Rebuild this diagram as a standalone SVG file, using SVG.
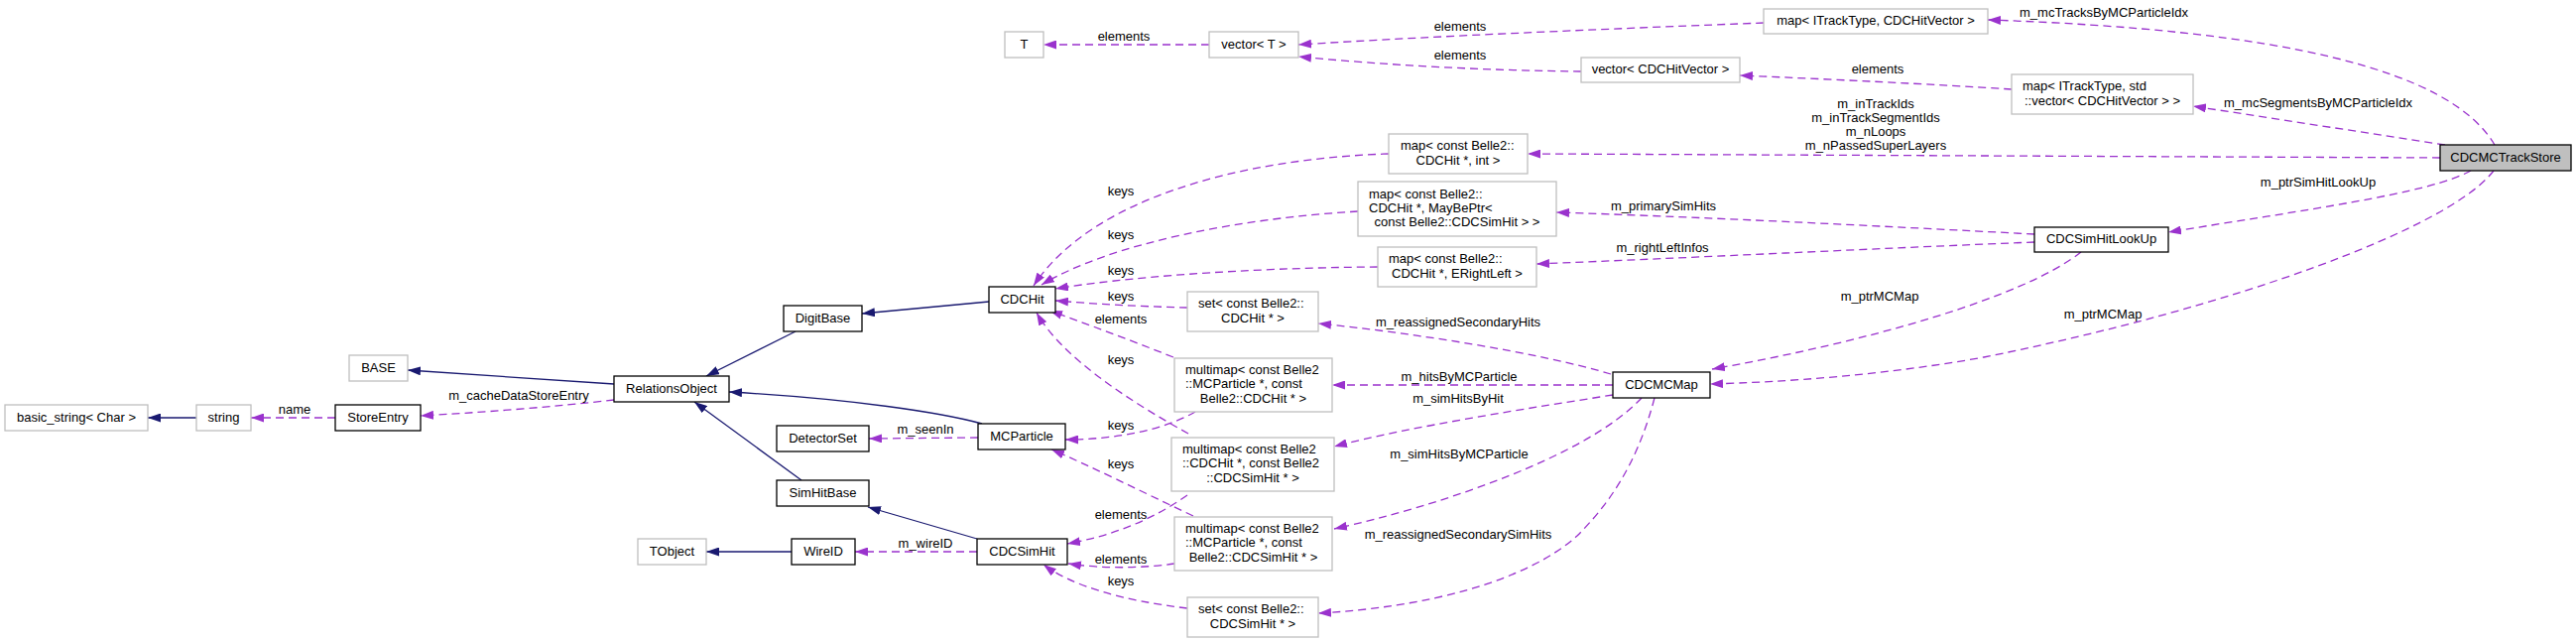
<svg xmlns="http://www.w3.org/2000/svg" width="2597" height="647" viewBox="0 0 2597 647">
<style>
text{font-family:"Liberation Sans",Arial,Helvetica,sans-serif;font-size:13px;fill:#000}
.m{text-anchor:middle}
.s{text-anchor:start}
.doc{fill:#fff;stroke:#000;stroke-width:1.3}
.und{fill:#fff;stroke:#bfbfbf;stroke-width:1.3}
.root{fill:#bfbfbf;stroke:#000;stroke-width:1.3}
.inh{fill:none;stroke:#191970;stroke-width:1.3;marker-end:url(#an)}
.use{fill:none;stroke:#9a32cd;stroke-width:1.3;stroke-dasharray:8,5;marker-end:url(#ap)}
</style>
<defs>
<marker id="an" markerUnits="userSpaceOnUse" markerWidth="13" markerHeight="9" refX="13" refY="4.5" orient="auto"><path d="M0,0 L13,4.5 L0,9 z" fill="#191970"/></marker>
<marker id="ap" markerUnits="userSpaceOnUse" markerWidth="13" markerHeight="9" refX="13" refY="4.5" orient="auto"><path d="M0,0 L13,4.5 L0,9 z" fill="#9a32cd"/></marker>
</defs>
<rect width="2597" height="647" fill="#fff"/>
<g id="edges">
<path class="inh" d="M198,421 L149,421"/>
<path class="inh" d="M619,387 L411,373"/>
<path class="inh" d="M802,334 L712,379"/>
<path class="inh" d="M997,304 L869,316"/>
<path class="inh" d="M990,427 C950,416 860,402 735,395"/>
<path class="inh" d="M808,484 L700,405"/>
<path class="inh" d="M985,543 L875,511"/>
<path class="inh" d="M798,556 L712,556"/>
<path class="use" d="M338,421 L253,421"/>
<path class="use" d="M619,403 C560,410 480,416 424,419"/>
<path class="use" d="M1219,45 L1052,45"/>
<path class="use" d="M1778,23 C1650,28 1450,36 1309,45"/>
<path class="use" d="M1594,72 C1500,71 1400,66 1309,57"/>
<path class="use" d="M2028,90 C1950,85 1850,80 1754,76"/>
<path class="use" d="M2515,146 C2470,70 2300,30 2004,20"/>
<path class="use" d="M2465,146 L2211,107"/>
<path class="use" d="M2460,159 L1540,155"/>
<path class="use" d="M2491,172 C2450,195 2320,212 2186,234"/>
<path class="use" d="M2514,172 C2470,230 2250,310 2000,360 C1900,378 1800,385 1724,387"/>
<path class="use" d="M2051,236 C1900,228 1700,218 1569,214"/>
<path class="use" d="M2051,244 C1900,250 1700,260 1549,266"/>
<path class="use" d="M2098,254 C2040,300 1880,345 1726,372"/>
<path class="use" d="M1624,377 C1550,355 1420,335 1329,326"/>
<path class="use" d="M1626,388 L1343,388"/>
<path class="use" d="M1626,398 C1550,410 1420,430 1345,450"/>
<path class="use" d="M1655,401 C1600,460 1450,510 1345,533"/>
<path class="use" d="M1668,401 C1650,470 1620,510 1590,540 C1540,585 1440,612 1329,618"/>
<path class="use" d="M1400,155 C1250,160 1100,200 1042,288"/>
<path class="use" d="M1369,213 C1250,220 1120,245 1050,287"/>
<path class="use" d="M1389,269 C1250,270 1130,280 1064,291"/>
<path class="use" d="M1197,310 C1150,309 1100,306 1064,303"/>
<path class="use" d="M1183,360 C1140,343 1100,328 1058,313"/>
<path class="use" d="M1198,437 C1140,405 1070,360 1045,315"/>
<path class="use" d="M1205,415 C1170,435 1120,443 1074,443"/>
<path class="use" d="M1203,520 C1150,495 1100,470 1060,453"/>
<path class="use" d="M1197,499 C1160,525 1120,540 1076,548"/>
<path class="use" d="M1184,568 C1150,573 1110,573 1077,568"/>
<path class="use" d="M1197,613 C1130,605 1080,590 1052,569"/>
<path class="use" d="M986,441 L876,442"/>
<path class="use" d="M985,556 L862,556"/>
<g id="edge-labels">
<text class="m" x="297" y="417">name</text>
<text class="m" x="523" y="402.5">m_cacheDataStoreEntry</text>
<text class="m" x="1133" y="41">elements</text>
<text class="m" x="1472" y="31">elements</text>
<text class="m" x="1472" y="59.5">elements</text>
<text class="m" x="1893" y="73.5">elements</text>
<text class="m" x="2121" y="17">m_mcTracksByMCParticleIdx</text>
<text class="m" x="2337" y="107.5">m_mcSegmentsByMCParticleIdx</text>
<text class="m" x="1891" y="108.5">m_inTrackIds</text>
<text class="m" x="1891" y="122.8">m_inTrackSegmentIds</text>
<text class="m" x="1891" y="137.1">m_nLoops</text>
<text class="m" x="1891" y="151.4">m_nPassedSuperLayers</text>
<text class="m" x="2337" y="187.5">m_ptrSimHitLookUp</text>
<text class="m" x="2120" y="320.5">m_ptrMCMap</text>
<text class="m" x="1677" y="211.5">m_primarySimHits</text>
<text class="m" x="1676" y="253.5">m_rightLeftInfos</text>
<text class="m" x="1895" y="302.5">m_ptrMCMap</text>
<text class="m" x="1470" y="328.5">m_reassignedSecondaryHits</text>
<text class="m" x="1471" y="383.5">m_hitsByMCParticle</text>
<text class="m" x="1470" y="405.5">m_simHitsByHit</text>
<text class="m" x="1471" y="461.5">m_simHitsByMCParticle</text>
<text class="m" x="1470" y="542.5">m_reassignedSecondarySimHits</text>
<text class="m" x="1130" y="196.5">keys</text>
<text class="m" x="1130" y="240.5">keys</text>
<text class="m" x="1130" y="276.5">keys</text>
<text class="m" x="1130" y="302.5">keys</text>
<text class="m" x="1130" y="325.5">elements</text>
<text class="m" x="1130" y="366.5">keys</text>
<text class="m" x="1130" y="432.5">keys</text>
<text class="m" x="1130" y="471.5">keys</text>
<text class="m" x="1130" y="522.5">elements</text>
<text class="m" x="1130" y="567.5">elements</text>
<text class="m" x="1130" y="589.5">keys</text>
<text class="m" x="933" y="436.5">m_seenIn</text>
<text class="m" x="933" y="551.5">m_wireID</text>
</g>
</g>
<g id="basic_string"><rect class="und" x="5" y="408" width="144" height="26"/><text class="m" x="77" y="424.7">basic_string&lt; Char &gt;</text></g>
<g id="string"><rect class="und" x="198" y="408" width="55" height="26"/><text class="m" x="225.5" y="424.7">string</text></g>
<g id="StoreEntry"><rect class="doc" x="338" y="408" width="86" height="26"/><text class="m" x="381" y="424.7">StoreEntry</text></g>
<g id="BASE"><rect class="und" x="352" y="358" width="59" height="26"/><text class="m" x="381.5" y="374.7">BASE</text></g>
<g id="RelationsObject"><rect class="doc" x="619" y="379" width="116" height="26"/><text class="m" x="677" y="395.7">RelationsObject</text></g>
<g id="DigitBase"><rect class="doc" x="790" y="308" width="79" height="26"/><text class="m" x="829.5" y="324.7">DigitBase</text></g>
<g id="DetectorSet"><rect class="doc" x="783" y="429" width="93" height="26"/><text class="m" x="829.5" y="445.7">DetectorSet</text></g>
<g id="SimHitBase"><rect class="doc" x="783" y="484" width="93" height="26"/><text class="m" x="829.5" y="500.7">SimHitBase</text></g>
<g id="TObject"><rect class="und" x="643" y="543" width="69" height="26"/><text class="m" x="677.5" y="559.7">TObject</text></g>
<g id="WireID"><rect class="doc" x="798" y="543" width="64" height="26"/><text class="m" x="830" y="559.7">WireID</text></g>
<g id="CDCHit"><rect class="doc" x="997" y="289" width="67" height="26"/><text class="m" x="1030.5" y="305.7">CDCHit</text></g>
<g id="MCParticle"><rect class="doc" x="986" y="427" width="88" height="26"/><text class="m" x="1030" y="443.7">MCParticle</text></g>
<g id="CDCSimHit"><rect class="doc" x="985" y="543" width="91" height="26"/><text class="m" x="1030.5" y="559.7">CDCSimHit</text></g>
<g id="T"><rect class="und" x="1013" y="32" width="39" height="26"/><text class="m" x="1032.5" y="48.7">T</text></g>
<g id="vectorT"><rect class="und" x="1219" y="32" width="90" height="26"/><text class="m" x="1264" y="48.7">vector&lt; T &gt;</text></g>
<g id="vectorCDCHitVector"><rect class="und" x="1594" y="58" width="160" height="25"/><text class="m" x="1674" y="74.2">vector&lt; CDCHitVector &gt;</text></g>
<g id="mapITrackTypeCDCHitVector"><rect class="und" x="1778" y="9" width="226" height="25"/><text class="m" x="1891" y="25.2">map&lt; ITrackType, CDCHitVector &gt;</text></g>
<g id="mapITrackTypeStdVector"><rect class="und" x="2028" y="75" width="183" height="40"/><text class="s" x="2039" y="91.2">map&lt; ITrackType, std</text><text class="m" x="2119.5" y="105.5">::vector&lt; CDCHitVector &gt; &gt;</text></g>
<g id="mapCDCHitInt"><rect class="und" x="1400" y="135" width="140" height="40"/><text class="s" x="1412" y="151.2">map&lt; const Belle2::</text><text class="m" x="1470" y="165.5">CDCHit *, int &gt;</text></g>
<g id="mapCDCHitMayBePtr"><rect class="und" x="1369" y="183" width="200" height="55"/><text class="s" x="1380" y="199.5">map&lt; const Belle2::</text><text class="s" x="1380" y="213.8">CDCHit *, MayBePtr&lt;</text><text class="m" x="1469" y="228.1">const Belle2::CDCSimHit &gt; &gt;</text></g>
<g id="mapCDCHitERightLeft"><rect class="und" x="1389" y="249" width="160" height="40"/><text class="s" x="1400" y="265.2">map&lt; const Belle2::</text><text class="m" x="1469" y="279.5">CDCHit *, ERightLeft &gt;</text></g>
<g id="setCDCHit"><rect class="und" x="1197" y="294" width="132" height="40"/><text class="s" x="1208" y="310.2">set&lt; const Belle2::</text><text class="m" x="1263" y="324.5">CDCHit * &gt;</text></g>
<g id="multimapMCPCDCHit"><rect class="und" x="1184" y="361" width="159" height="54"/><text class="s" x="1195" y="377">multimap&lt; const Belle2</text><text class="s" x="1195" y="391.3">::MCParticle *, const</text><text class="m" x="1263.5" y="405.6">Belle2::CDCHit * &gt;</text></g>
<g id="multimapCDCHitCDCSimHit"><rect class="und" x="1181" y="441" width="164" height="54"/><text class="s" x="1192" y="457">multimap&lt; const Belle2</text><text class="s" x="1192" y="471.3">::CDCHit *, const Belle2</text><text class="m" x="1263" y="485.6">::CDCSimHit * &gt;</text></g>
<g id="multimapMCPCDCSimHit"><rect class="und" x="1184" y="521" width="159" height="54"/><text class="s" x="1195" y="537">multimap&lt; const Belle2</text><text class="s" x="1195" y="551.3">::MCParticle *, const</text><text class="m" x="1263.5" y="565.6">Belle2::CDCSimHit * &gt;</text></g>
<g id="setCDCSimHit"><rect class="und" x="1197" y="602" width="132" height="40"/><text class="s" x="1208" y="618.2">set&lt; const Belle2::</text><text class="m" x="1263" y="632.5">CDCSimHit * &gt;</text></g>
<g id="CDCMCMap"><rect class="doc" x="1626" y="375" width="98" height="26"/><text class="m" x="1675" y="391.7">CDCMCMap</text></g>
<g id="CDCSimHitLookUp"><rect class="doc" x="2051" y="229" width="135" height="25"/><text class="m" x="2118.5" y="245.2">CDCSimHitLookUp</text></g>
<g id="CDCMCTrackStore"><rect class="root" x="2460" y="146" width="132" height="26"/><text class="m" x="2526" y="162.7">CDCMCTrackStore</text></g>
</svg>
